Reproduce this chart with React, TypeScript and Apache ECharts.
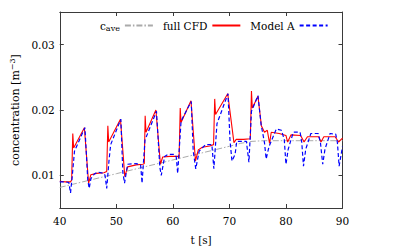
import React, { useEffect, useRef } from 'react';
import * as echarts from 'echarts';

// c_ave (gray dash-dot)
const aveT = [40, 45, 50, 55, 60, 65, 70, 72, 74, 76, 80, 85, 90];
const aveC = [0.00815, 0.0092, 0.01025, 0.0113, 0.01235, 0.0134, 0.01445, 0.0149, 0.0152, 0.0153, 0.0153, 0.0153, 0.0153];

// full CFD (red solid)
const cfdT = [40, 41.0, 41.9, 42.1, 42.3, 42.45, 44.35, 45.1, 45.5, 46.5, 47.8, 48.3, 48.5, 48.65, 50.73, 51.5, 52.0, 53.5, 54.7, 54.95, 55.1, 55.25, 57.0, 57.8, 58.2, 59.5, 60.9, 61.1, 61.3, 61.45, 63.2, 64.0, 64.5, 65.2, 66.5, 67.2, 67.4, 67.55, 69.7, 70.8, 71.2, 72.5, 73.7, 73.9, 74.05, 75.05, 75.65, 76.2, 76.7, 77.1, 77.4, 78.8, 80.0, 80.3, 80.9, 82.6, 83.2, 83.8, 85.8, 86.2, 86.7, 88.7, 89.3, 90];
const cfdC = [0.0091, 0.0090, 0.0090, 0.0093, 0.0164, 0.0142, 0.0173, 0.0088, 0.0101, 0.0103, 0.0104, 0.0106, 0.0176, 0.0151, 0.0186, 0.0098, 0.0113, 0.0116, 0.0117, 0.0118, 0.0191, 0.0166, 0.0200, 0.0117, 0.0128, 0.0129, 0.0129, 0.0126, 0.0203, 0.0181, 0.0214, 0.0122, 0.0139, 0.0143, 0.0145, 0.0147, 0.0217, 0.0193, 0.0225, 0.0150, 0.0155, 0.0155, 0.0156, 0.0229, 0.0203, 0.0221, 0.0176, 0.0166, 0.0169, 0.0149, 0.0166, 0.0164, 0.0161, 0.0151, 0.0162, 0.0161, 0.0151, 0.0159, 0.0159, 0.0151, 0.0159, 0.0159, 0.0151, 0.0157];

// Model A (blue dashed)
const modelT = [40, 41.0, 41.6, 41.9, 42.2, 42.6, 44.45, 44.95, 45.2, 45.5, 46.1, 46.7, 47.8, 48.0, 48.3, 48.7, 49.0, 50.8, 51.15, 51.45, 52.0, 53.5, 54.3, 54.55, 55.07, 57.1, 57.7, 57.95, 58.55, 59.1, 60.3, 60.6, 60.85, 61.45, 63.25, 63.6, 64.05, 64.65, 65.2, 65.8, 66.9, 67.25, 67.8, 69.75, 70.1, 70.45, 71.0, 71.3, 73.0, 73.45, 73.9, 75.05, 75.6, 76.2, 76.5, 77.0, 78.3, 79.2, 79.7, 80.0, 80.4, 81.3, 82.5, 82.8, 83.1, 83.5, 84.4, 85.7, 86.1, 86.5, 86.9, 87.8, 88.8, 89.1, 89.4, 90];
const modelC = [0.0090, 0.0090, 0.0089, 0.0073, 0.0098, 0.0137, 0.0173, 0.0093, 0.0080, 0.0095, 0.0102, 0.0105, 0.0103, 0.0100, 0.0080, 0.0122, 0.0147, 0.0186, 0.0105, 0.0088, 0.0117, 0.0118, 0.0116, 0.0088, 0.0154, 0.0198, 0.0112, 0.0100, 0.0129, 0.0132, 0.0132, 0.0128, 0.0103, 0.0183, 0.0213, 0.0137, 0.0110, 0.0137, 0.0142, 0.0147, 0.0147, 0.0110, 0.0179, 0.0225, 0.0154, 0.0122, 0.0132, 0.0152, 0.0152, 0.0120, 0.0198, 0.0222, 0.0178, 0.0150, 0.0125, 0.0144, 0.0171, 0.0169, 0.0155, 0.0117, 0.0140, 0.0166, 0.0166, 0.0150, 0.0114, 0.0140, 0.0164, 0.0164, 0.0150, 0.0117, 0.0140, 0.0164, 0.0163, 0.0150, 0.0114, 0.0144];

const yTicks = [0.01, 0.02, 0.03];

const FONT = "'DejaVu Serif', serif";
const FS = 10.5;
const AXIS_COLOR = '#3a3a3a';

export default function App() {
  const ref = useRef<HTMLDivElement>(null);
  useEffect(() => {
    const chart = echarts.init(ref.current!, null, { renderer: 'svg' });
    const pair = (t: number[], c: number[]) => t.map((v, i) => [v, c[i]]);
    const xCommon = {
      type: 'value' as const,
      min: 40,
      max: 90,
      interval: 10,
      splitLine: { show: false },
      axisLine: { show: true, onZero: false, lineStyle: { color: AXIS_COLOR, width: 1 } },
      axisTick: { show: true, inside: true, length: 4, lineStyle: { color: AXIS_COLOR } },
    };
    const yCommon = {
      type: 'value' as const,
      min: 0.005,
      max: 0.035,
      splitLine: { show: false },
      axisLine: { show: true, onZero: false, lineStyle: { color: AXIS_COLOR, width: 1 } },
      axisTick: { show: true, inside: true, length: 4, customValues: yTicks, lineStyle: { color: AXIS_COLOR } },
    };
    chart.setOption({
      animation: false,
      textStyle: { fontFamily: FONT },
      grid: { left: 55, right: 55.5, top: 12, bottom: 35, containLabel: false },
      legend: {
        left: 100,
        top: 20,
        padding: 0,
        itemWidth: 28,
        itemHeight: 10,
        itemGap: 9,
        align: 'right',
        data: ['cave', 'full CFD', 'Model A'],
        itemStyle: { color: 'rgba(0,0,0,0)', borderColor: 'rgba(0,0,0,0)', borderWidth: 0 },
        formatter: (name: string) => (name === 'cave' ? '{c|c}{s|ave}' : name),
        textStyle: {
          fontFamily: FONT,
          fontSize: FS,
          color: '#000',
          rich: {
            c: { fontFamily: FONT, fontSize: FS, lineHeight: 14, verticalAlign: 'middle', color: '#000' },
            s: { fontFamily: FONT, fontSize: 8, lineHeight: 9, verticalAlign: 'bottom', color: '#000' },
          },
        },
      },
      xAxis: [
        {
          ...xCommon,
          position: 'bottom',
          name: 't [s]',
          nameLocation: 'middle',
          nameGap: 26,
          nameTextStyle: { fontFamily: FONT, fontSize: FS, color: '#000' },
          axisLabel: { fontFamily: FONT, fontSize: FS, color: '#000', margin: 7 },
        },
        { ...xCommon, position: 'top', axisLabel: { show: false } },
      ],
      yAxis: [
        {
          ...yCommon,
          position: 'left',
          name: '{a|concentration [m}{b|−3}{a|]}',
          nameLocation: 'middle',
          nameGap: 37,
          nameTextStyle: {
            fontFamily: FONT,
            fontSize: 11,
            color: '#000',
            rich: {
              a: { fontFamily: FONT, fontSize: 11, lineHeight: 14, verticalAlign: 'middle', color: '#000' },
              b: { fontFamily: FONT, fontSize: 8, lineHeight: 9, verticalAlign: 'top', color: '#000' },
            },
          },
          axisLabel: {
            fontFamily: FONT,
            fontSize: FS,
            color: '#000',
            margin: 5,
            customValues: yTicks,
            formatter: (v: number) => v.toFixed(2),
          },
        },
        { ...yCommon, position: 'right', axisLabel: { show: false } },
      ],
      series: [
        {
          name: 'cave',
          type: 'line',
          data: pair(aveT, aveC),
          symbol: 'none',
          showSymbol: false,
          lineStyle: { color: '#aaaaaa', width: 1, type: [6, 2, 1.5, 2] },
          itemStyle: { color: '#aaaaaa' },
          z: 1,
        },
        {
          name: 'full CFD',
          type: 'line',
          data: pair(cfdT, cfdC),
          symbol: 'none',
          showSymbol: false,
          lineStyle: { color: '#ff0000', width: 1.1 },
          itemStyle: { color: '#ff0000' },
          z: 2,
        },
        {
          name: 'Model A',
          type: 'line',
          data: pair(modelT, modelC),
          symbol: 'none',
          showSymbol: false,
          lineStyle: { color: '#0000ff', width: 1.2, type: [4, 2.5] },
          itemStyle: { color: '#0000ff' },
          z: 3,
        },
      ],
    });
    return () => chart.dispose();
  }, []);
  return <div ref={ref} style={{ position: 'absolute', left: 0, top: 0, width: 398, height: 250 }} />;
}
